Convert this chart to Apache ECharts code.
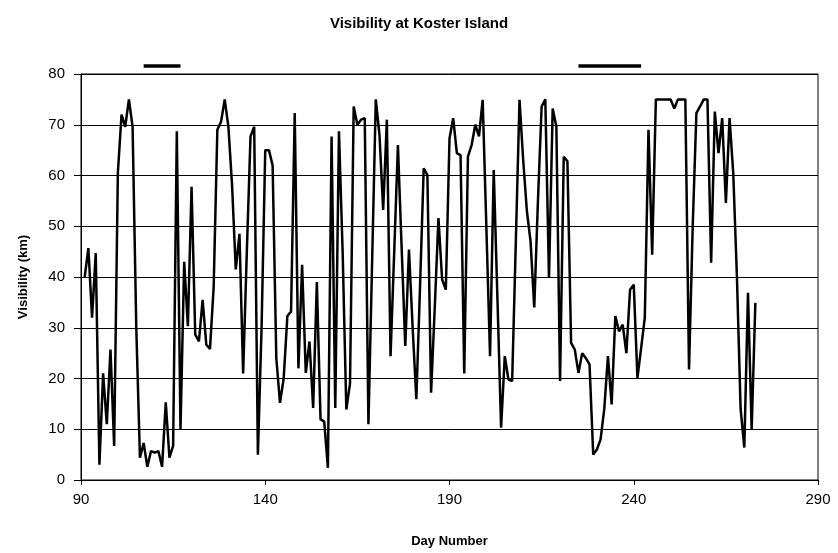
<!DOCTYPE html>
<html>
<head>
<meta charset="utf-8">
<script src="https://cdn.jsdelivr.net/npm/echarts@6/dist/echarts.min.js"></script>
<style>html,body{margin:0;padding:0;background:#fff}#c{width:838px;height:553px}</style>
</head>
<body>
<div id="c"></div>
<script>
const startDay = 91;
const visibility = [
 40,45.7,32,44.7,3,21,11,25.7,6.7,60.5,
 72,69.6,75,69.6,30,4.4,7.3,2.6,5.7,5.4,
 5.7,2.6,15.3,4.4,6.7,68.7,10,43,30.3,57.8,
 28.7,27.3,35.5,26.7,25.8,38,69,70.6,75,69.6,
 58,41.5,48.5,21,45,67.7,69.6,5,30,65,
 65,62,24,15.2,20,32.3,33.2,72.3,22,42.4,
 21.1,27.3,14.2,39,12,11.5,2.4,67.7,14.2,68.7,
 45,13.9,19,73.6,70,71,71.3,11,43,75,
 68,53.2,71,24.4,45,66,46,26.4,45.4,30,
 15.9,38,61.4,60.1,17.2,34,51.6,39.5,37.5,67.3,
 71.3,64.4,64,21,63.7,66,70,67.7,74.9,50,
 24.4,61.1,36,10.3,24.4,19.8,19.5,47,74.9,63,
 53,47,34,55,73.6,75,39.8,73.2,69.6,19.5,
 63.7,62.8,27,25.7,21.1,25,24,22.8,5,6,
 8,14,24.4,14.9,32.3,29.3,30.6,25,37.5,38.5,
 20.1,26,32,69,44.4,75,75,75,75,75,
 73.2,75,75,75,21.8,50,72.3,73.6,75,75,
 42.8,72.6,64.4,71.3,54.6,71.3,60.5,40,14,6.4,
 36.9,10,34.9
];
const periods = [[107,117],[225,242]];
const periodLevel = 81.6;
const xTicks = [90,140,190,240,290];
const yTicks = [0,10,20,30,40,50,60,70,80];

const lineData = visibility.map((v,i)=>[startDay+i, v]);
const font = 'Liberation Sans, Arial, Helvetica, sans-serif';
const series = [{
  type:'line', data: lineData, showSymbol:false, symbol:'none',
  lineStyle:{color:'#000', width:2.5}, animation:false, z:3
}];
periods.forEach(p=>{
  series.push({type:'line', data:[[p[0],periodLevel],[p[1],periodLevel]], showSymbol:false, symbol:'none',
    clip:false, lineStyle:{color:'#000', width:3.5}, animation:false});
});
const chart = echarts.init(document.getElementById('c'));
chart.setOption({
  animation:false,
  backgroundColor:'#fff',
  title:{text:'Visibility at Koster Island', left:'center', top:11,
    textStyle:{fontFamily:font, fontWeight:'bold', fontSize:15, color:'#000'}},
  grid:{left:81, right:20, top:74, bottom:73, show:true, borderColor:'#000', borderWidth:1},
  xAxis:{type:'value', min:xTicks[0], max:xTicks[xTicks.length-1], interval:50,
    name:'Day Number', nameLocation:'middle', nameGap:55,
    nameTextStyle:{fontFamily:font, fontWeight:'bold', fontSize:13, color:'#000'},
    axisLine:{lineStyle:{color:'#000', width:1}},
    axisTick:{show:true, length:5, lineStyle:{color:'#000'}},
    axisLabel:{fontFamily:font, fontSize:15, color:'#000', margin:12},
    splitLine:{show:false}},
  yAxis:{type:'value', min:yTicks[0], max:yTicks[yTicks.length-1], interval:10,
    name:'Visibility (km)', nameLocation:'middle', nameGap:51, nameRotate:90,
    nameTextStyle:{fontFamily:font, fontWeight:'bold', fontSize:13, color:'#000'},
    axisLine:{show:true, lineStyle:{color:'#000', width:1}},
    axisTick:{show:true, length:7, lineStyle:{color:'#000'}},
    axisLabel:{fontFamily:font, fontSize:15, color:'#000', margin:16},
    splitLine:{show:true, lineStyle:{color:'#000', width:1}}},
  series: series
});
</script>
</body>
</html>
